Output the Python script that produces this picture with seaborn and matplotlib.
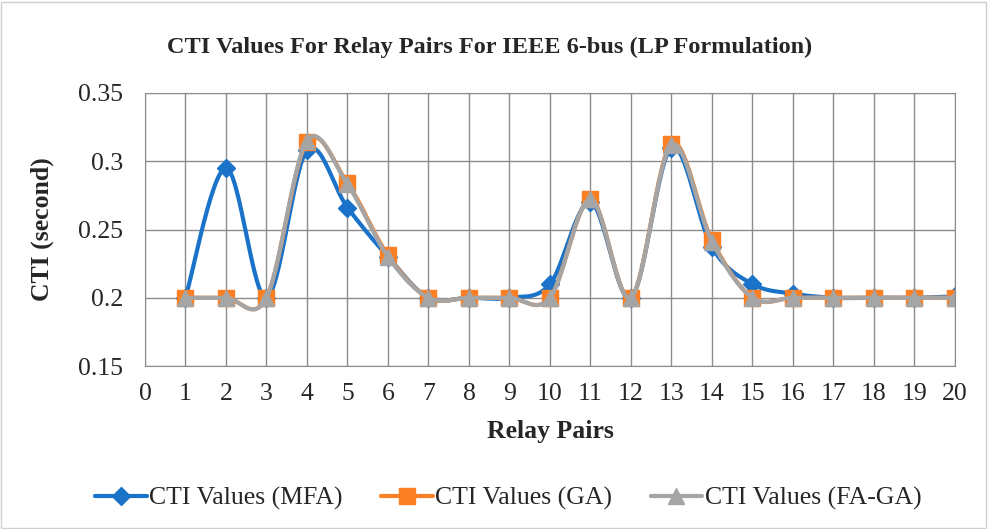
import matplotlib
matplotlib.use("Agg")
import matplotlib.pyplot as plt
import numpy as np
import pandas as pd
import seaborn as sns
from matplotlib.lines import Line2D
from matplotlib.patches import Rectangle

relay_pairs = list(range(1, 21))
cti_mfa = [0.200, 0.295, 0.200, 0.308, 0.266, 0.230, 0.200, 0.200, 0.200, 0.210,
           0.270, 0.200, 0.310, 0.237, 0.210, 0.203, 0.200, 0.200, 0.200, 0.201]
cti_ga = [0.200, 0.200, 0.200, 0.314, 0.284, 0.231, 0.200, 0.200, 0.200, 0.200,
          0.272, 0.200, 0.313, 0.242, 0.200, 0.200, 0.200, 0.200, 0.200, 0.200]
cti_fa_ga = [0.200, 0.200, 0.200, 0.315, 0.283, 0.230, 0.200, 0.200, 0.200, 0.200,
             0.272, 0.200, 0.312, 0.241, 0.200, 0.200, 0.200, 0.200, 0.200, 0.200]

series_names = ["CTI Values (MFA)", "CTI Values (GA)", "CTI Values (FA-GA)"]
series_vals = [cti_mfa, cti_ga, cti_fa_ga]
colors = ["#1a73c9", "#fd7f23", "#a5a5a5"]
markers = ["D", "s", "^"]
msizes = [9, 11, 11]


def smooth(x, y, n=30):
    # Excel-style smoothed line (Catmull-Rom bezier)
    x = np.asarray(x, float)
    y = np.asarray(y, float)
    px = np.concatenate([[x[0]], x, [x[-1]]])
    py = np.concatenate([[y[0]], y, [y[-1]]])
    xs, ys = [], []
    t = np.linspace(0, 1, n)
    for i in range(1, len(px) - 2):
        p0 = np.array([px[i], py[i]])
        p3 = np.array([px[i + 1], py[i + 1]])
        c1 = p0 + (np.array([px[i + 1], py[i + 1]]) - np.array([px[i - 1], py[i - 1]])) / 6
        c2 = p3 - (np.array([px[i + 2], py[i + 2]]) - np.array([px[i], py[i]])) / 6
        b = ((1 - t) ** 3)[:, None] * p0 + (3 * (1 - t) ** 2 * t)[:, None] * c1 \
            + (3 * (1 - t) * t ** 2)[:, None] * c2 + (t ** 3)[:, None] * p3
        xs.extend(b[:, 0])
        ys.extend(b[:, 1])
    return np.array(xs), np.array(ys)


sns.set_style("white")
plt.rcParams["font.family"] = ["Liberation Serif", "DejaVu Serif"]

fig = plt.figure(figsize=(9.89, 5.29), dpi=100)
ax = fig.add_axes([0.1466, 0.3081, 0.8190, 0.5161])

for name, vals, col, mk, ms in zip(series_names, series_vals, colors, markers, msizes):
    sx, sy = smooth(relay_pairs, vals)
    curve = pd.DataFrame({"x": sx, "y": sy})
    sns.lineplot(data=curve, x="x", y="y", color=col, lw=3, sort=False,
                 estimator=None, ax=ax, legend=False)
    ax.plot(relay_pairs, vals, linestyle="none", marker=mk, ms=ms, color=col)

ax.set_xlim(0, 20)
ax.set_ylim(0.15, 0.35)
ax.set_xticks(range(0, 21))
ax.set_yticks([0.15, 0.2, 0.25, 0.3, 0.35])
ax.set_yticklabels(["0.15", "0.2", "0.25", "0.3", "0.35"])
ax.grid(True, color="#8c8c8c", lw=1.0)
ax.set_axisbelow(True)
for sp in ax.spines.values():
    sp.set_color("#8c8c8c")
ax.tick_params(axis="both", labelsize=18.5, length=0)
ax.tick_params(axis="y", pad=16)
ax.tick_params(axis="x", pad=12)

ax.set_xlabel("Relay Pairs", fontsize=18.5, fontweight="bold", labelpad=11)
ax.set_ylabel("CTI (second)", fontsize=18.5, fontweight="bold", labelpad=17)
fig.text(0.495, 0.911, "CTI Values For Relay Pairs For IEEE 6-bus (LP Formulation)",
         ha="center", va="center", fontsize=17.5, fontweight="bold")

handles = [Line2D([0], [0], color=c, lw=3, marker=m, ms=s)
           for c, m, s in zip(colors, markers, msizes)]
fig.legend(handles, series_names, loc="center", bbox_to_anchor=(0.514, 0.058),
           ncol=3, frameon=False, fontsize=18.5, handlelength=2.0,
           handletextpad=0.1, columnspacing=1.5)

fig.patches.append(Rectangle((0.001, 0.001), 0.996, 0.996, transform=fig.transFigure,
                             fill=False, edgecolor="#d0d0d0", lw=1))

fig.savefig("out.png", dpi=100)
